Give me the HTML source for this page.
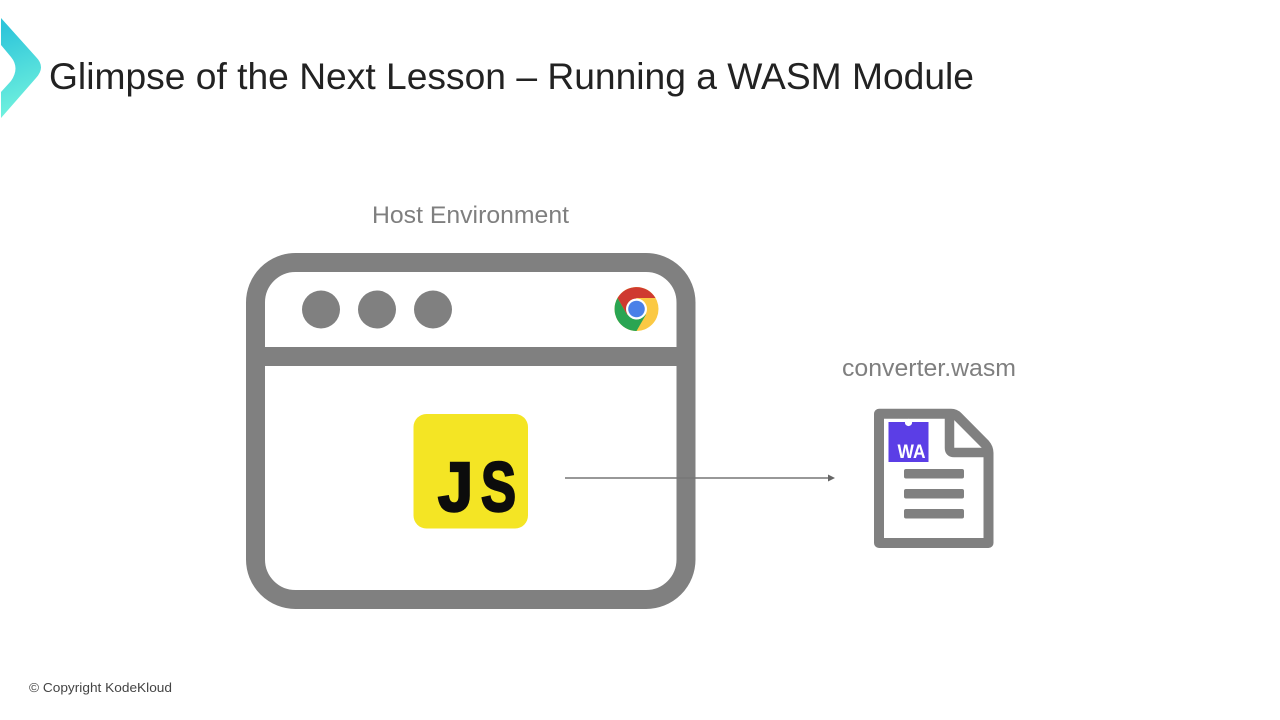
<!DOCTYPE html>
<html>
<head>
<meta charset="utf-8">
<style>
html,body{margin:0;padding:0;background:#fff;width:1280px;height:720px;overflow:hidden}
svg{display:block}
text{font-family:"Liberation Sans",sans-serif}
</style>
</head>
<body>
<svg width="1280" height="720" viewBox="0 0 1280 720" xmlns="http://www.w3.org/2000/svg">
<defs>
<linearGradient id="g" gradientUnits="userSpaceOnUse" x1="0" y1="30" x2="30" y2="110">
<stop offset="0" stop-color="#2fc6da"/>
<stop offset="1" stop-color="#72f2de"/>
</linearGradient>
</defs>
<rect width="1280" height="720" fill="#fff"/>

<path d="M1 18 L36 57 Q46 67 36 78 L1 118 L1 92 L11 81 Q20 68 11 57 L1 45 Z" fill="url(#g)"/>
<text x="49" y="89" font-size="37.5" fill="#222" textLength="925" lengthAdjust="spacingAndGlyphs">Glimpse of the Next Lesson – Running a WASM Module</text>

<text x="372" y="223" font-size="24" fill="#7f7f7f" textLength="197" lengthAdjust="spacingAndGlyphs">Host Environment</text>

<rect x="255.5" y="262.5" width="430.5" height="337" rx="40" ry="40" fill="none" stroke="#808080" stroke-width="19"/>
<rect x="255" y="347" width="431" height="19" fill="#808080"/>
<circle cx="321" cy="309.5" r="19" fill="#808080"/>
<circle cx="377" cy="309.5" r="19" fill="#808080"/>
<circle cx="433" cy="309.5" r="19" fill="#808080"/>

<circle cx="636.5" cy="309" r="22" fill="#fbc944"/>
<path d="M617.5 298 A22 22 0 0 1 655.5 298 L636.5 298 L627 314.5 Z" fill="#cf3a30"/>
<path d="M617.5 298 A22 22 0 0 0 636.5 331 L646 314.5 L627 314.5 Z" fill="#2aa552"/>
<circle cx="636.5" cy="309" r="10.5" fill="#fff"/>
<circle cx="636.5" cy="309" r="8.3" fill="#4a80e8"/>

<rect x="413.5" y="414" width="114.5" height="114.5" rx="13" fill="#f4e524"/>
<text x="438" y="511" font-size="70" font-weight="bold" fill="#0c0c0c" stroke="#0c0c0c" stroke-width="2.5" textLength="35" lengthAdjust="spacingAndGlyphs">J</text>
<text x="481" y="511" font-size="70" font-weight="bold" fill="#0c0c0c" stroke="#0c0c0c" stroke-width="2.5" textLength="35" lengthAdjust="spacingAndGlyphs">S</text>

<line x1="565" y1="478" x2="829" y2="478" stroke="#777" stroke-width="1.6"/>
<path d="M828 474.5 L835 478 L828 481.5 Z" fill="#666"/>

<text x="842" y="376" font-size="24" fill="#7f7f7f" textLength="174" lengthAdjust="spacingAndGlyphs">converter.wasm</text>

<path d="M879 413.8 H951 Q955 413.8 958 416.8 L985 444 Q988.5 448 988.5 453 V543 H879 Z" fill="none" stroke="#808080" stroke-width="10" stroke-linejoin="round"/>
<path d="M949.5 414 V448 Q949.5 452.5 954 452.5 H988" fill="none" stroke="#808080" stroke-width="9.5"/>
<rect x="888.5" y="422" width="40" height="40" fill="#5b3ee6"/>
<circle cx="908.5" cy="422.5" r="3.6" fill="#fff"/>
<text x="897.5" y="458" font-size="19.5" font-weight="bold" fill="#fff" textLength="28" lengthAdjust="spacingAndGlyphs">WA</text>
<rect x="904" y="469" width="60" height="9.5" rx="2" fill="#808080"/>
<rect x="904" y="489" width="60" height="9.5" rx="2" fill="#808080"/>
<rect x="904" y="509" width="60" height="9.5" rx="2" fill="#808080"/>

<text x="29" y="692" font-size="13" fill="#444" textLength="143" lengthAdjust="spacingAndGlyphs">© Copyright KodeKloud</text>
</svg>
</body>
</html>
